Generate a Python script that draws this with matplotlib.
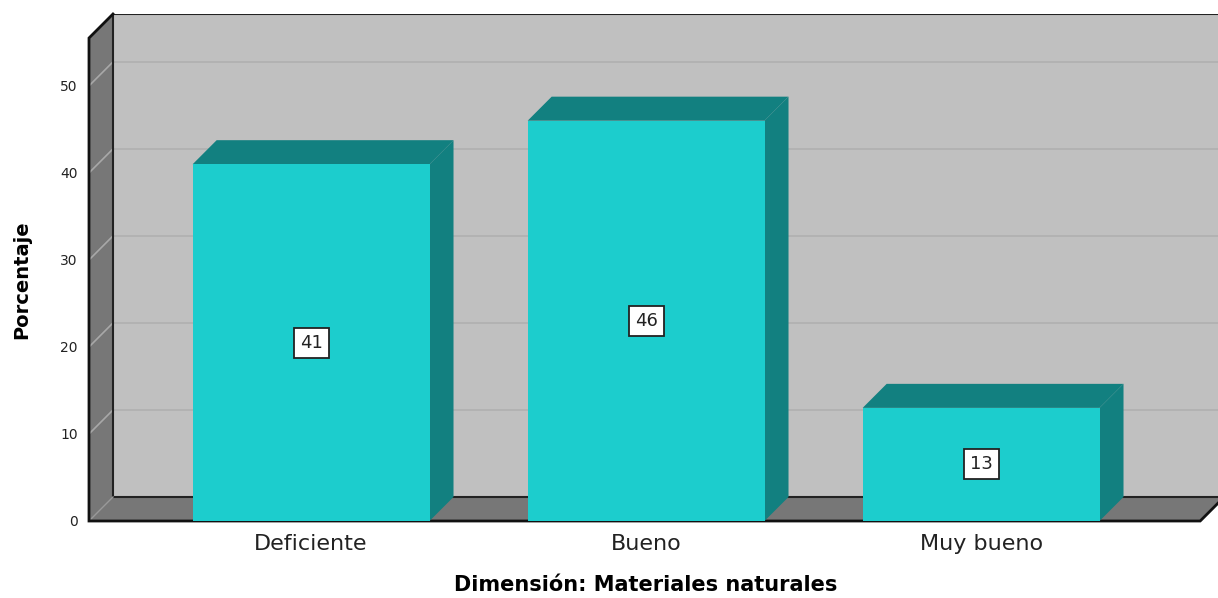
import matplotlib
matplotlib.use("Agg")
import matplotlib.pyplot as plt
from matplotlib.patches import Polygon, Rectangle

plt.rcParams['font.family'] = ['DejaVu Sans']

categorias = ['Deficiente', 'Bueno', 'Muy bueno']
porcentajes = [41, 46, 13]
yticks = [0, 10, 20, 30, 40, 50]

# estilo / geometria 3D
frente = '#1ccdcd'
oscuro = '#128080'
pared = '#c0c0c0'
lado = '#777777'
ancho = 0.707
dx, dy = 0.0716, 2.76
x0, x1 = -0.663, 2.654
ymax = 55.5

fig = plt.figure(figsize=(12.18, 5.98), dpi=100)
ax = fig.add_axes([89/1218, 77/598, 1 - 89/1218, (521-14)/598])
ax.set_xlim(x0, x0 + (1218-89)/335)
ax.set_ylim(0, ymax + dy)

# paredes
ax.add_patch(Rectangle((x0+dx, dy), x1-x0+0.2, ymax, fc=pared, ec='none', zorder=1))
ax.add_patch(Polygon([(x0, 0), (x0+dx, dy), (x0+dx, ymax+dy), (x0, ymax)], fc=lado, ec='none', zorder=1))
ax.add_patch(Polygon([(x0, 0), (x1, 0), (x1+dx, dy), (x0+dx, dy)], fc=lado, ec='none', zorder=1))
for v in yticks[1:]:
    ax.plot([x0+dx, x1+0.2], [v+dy, v+dy], color='#b0b0b0', lw=1.2, zorder=2)
    ax.plot([x0, x0+dx], [v, v+dy], color='#a8a8a8', lw=1.2, zorder=2)
ax.plot([x0+dx, x0+dx, x1+0.2], [ymax+dy, dy, dy], color='#222222', lw=1.5, zorder=3)
ax.plot([x0+dx, x1+0.2], [ymax+dy, ymax+dy], color='#222222', lw=1.5, zorder=3)
ax.plot([x0, x0+dx], [0, dy], color='#999999', lw=1, zorder=3)
ax.plot([x0+dx, x0, x0, x1, x1+dx], [ymax+dy, ymax, 0, 0, dy], color='#111111', lw=2, zorder=3,
        clip_on=False, solid_joinstyle='miter')

# barras
for i, v in enumerate(porcentajes):
    a, b = i - ancho/2, i + ancho/2
    ax.add_patch(Polygon([(a, v), (a+dx, v+dy), (b+dx, v+dy), (b, v)], fc=oscuro, ec='none', zorder=4))
    ax.add_patch(Polygon([(b, 0), (b+dx, dy), (b+dx, v+dy), (b, v)], fc=oscuro, ec='none', zorder=4))
    ax.add_patch(Rectangle((a, 0), ancho, v, fc=frente, ec='none', zorder=5))
    ax.text(i, v/2, str(v), ha='center', va='center', fontsize=13, zorder=6, color='#222222',
            bbox=dict(boxstyle='square,pad=0.33', fc='white', ec='#222222', lw=1.3))

for s in ax.spines.values():
    s.set_visible(False)
ax.set_yticks(yticks)
ax.set_yticklabels([str(t) for t in yticks], fontsize=10, color='#222222')
ax.set_xticks(range(len(categorias)))
ax.set_xticklabels(categorias, fontsize=16, color='#222222')
ax.tick_params(axis='y', length=0, pad=8)
ax.tick_params(axis='x', length=0, pad=9)

fig.text(22/1218, 1 - 280/598, 'Porcentaje', rotation=90, ha='center', va='center',
         fontsize=14, fontweight='bold')
fig.text(646/1218, 1 - 585/598, 'Dimensión: Materiales naturales', ha='center', va='center',
         fontsize=15, fontweight='bold')

fig.savefig('out.png', dpi=100)
